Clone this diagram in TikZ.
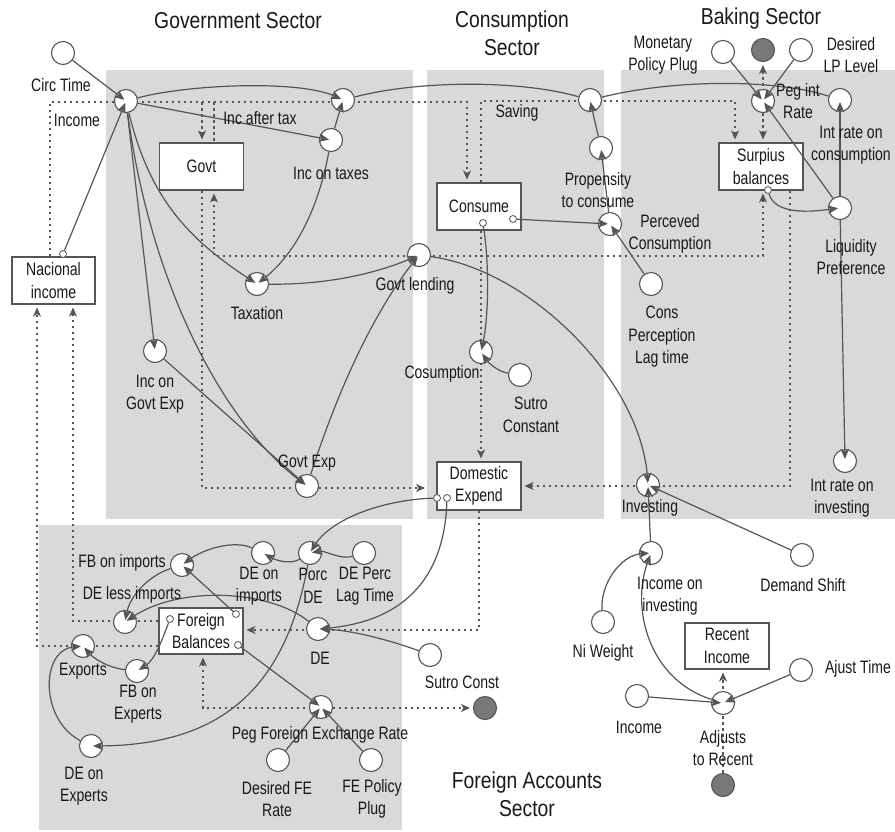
\documentclass[tikz,border=0pt]{standalone}
\usepackage{fontspec}
\setmainfont{Liberation Sans}[FakeStretch=0.78]
\newfontfamily\titlefamily{Liberation Sans}[FakeStretch=0.84]
\usetikzlibrary{arrows.meta}

\definecolor{panel}{RGB}{216,217,219}
\definecolor{ink}{RGB}{85,85,85}
\definecolor{cloudfill}{RGB}{120,120,120}
\definecolor{txt}{RGB}{25,25,25}

\newcommand\lblfont{\fontsize{18}{22.5}\selectfont}
\newcommand\ttlfont{\titlefamily\fontsize{23}{28}\selectfont}

\pgfdeclarelayer{back}
\pgfdeclarelayer{flows}
\pgfsetlayers{back,flows,main}

\tikzset{
  conv/.style={circle, draw=ink, line width=1.1pt, fill=white, minimum size=23pt, inner sep=0pt},
  cloudc/.style={circle, draw=ink, line width=1.1pt, fill=cloudfill, minimum size=23pt, inner sep=0pt},
  stock/.style={rectangle, draw=ink, line width=1.1pt, fill=white, minimum width=84pt,
                minimum height=47pt, inner sep=0pt, align=center, font=\lblfont, text=txt},
  port/.style={circle, draw=ink, line width=0.8pt, fill=white, minimum size=7pt, inner sep=0pt},
  lbl/.style={align=center, inner sep=0pt, font=\lblfont, text=txt},
  ttl/.style={align=center, inner sep=0pt, font=\ttlfont, text=txt},
  conn/.style={draw=ink, line width=1.2pt, -{Stealth[length=10pt,width=8.5pt,inset=2.5pt]}, shorten >=2pt},
  wire/.style={draw=ink, line width=1.2pt},
  flowline/.style={draw=ink, line width=1.1pt, dash pattern=on 2.5pt off 3.5pt},
  ftip/.style={-{Stealth[length=9pt,width=8pt,inset=2.5pt]}, shorten >=3pt},
  ftips/.style={{Stealth[length=9pt,width=8pt,inset=2.5pt]}-{Stealth[length=9pt,width=8pt,inset=2.5pt]}, shorten >=3pt, shorten <=3pt},
}

\begin{document}
\begin{tikzpicture}[x=1pt,y=-1pt]
\useasboundingbox (0,0) rectangle (895,831);

% ---------------- sector panels ----------------
\begin{pgfonlayer}{back}
  \fill[panel] (106,70) rectangle (413,519);
  \fill[panel] (427,70) rectangle (604,519);
  \fill[panel] (621,70) rectangle (895,519);
  \fill[panel] (39,525) rectangle (402,830);
\end{pgfonlayer}

% ---------------- stocks ----------------
\node[stock, minimum width=83pt] (nacional) at (53.5,280.5) {Nacional\\income};
\node[stock] (govt) at (201.5,166.5) {Govt};
\node[stock] (consume) at (479,206.5) {Consume};
\node[stock] (surplus) at (761,166.5) {Surpius\\balances};
\node[stock, minimum height=48pt] (domestic) at (479,486) {Domestic\\Expend};
\node[stock, minimum height=46pt] (foreign) at (201,631) {Foreign\\Balances};
\node[stock, minimum height=46pt] (recent) at (727,646) {Recent\\Income};

% ---------------- government sector ----------------
\node[conv] (circtime) at (63,53) {};
\node[conv] (incomeV) at (126,101) {};
\node[conv] (iatV) at (343,100) {};
\node[conv] (incontaxes) at (331,140) {};
\node[conv] (taxV) at (257,284) {};
\node[conv] (glendV) at (419,255) {};
\node[conv] (incgexp) at (155,351) {};
\node[conv] (gexpV) at (307,486) {};

% ---------------- consumption sector ----------------
\node[conv] (savingV) at (590,100) {};
\node[conv] (propensity) at (601,148) {};
\node[conv] (percV) at (610,224) {};
\node[conv] (consperc) at (651,284) {};
\node[conv] (cosumpV) at (481,352) {};
\node[conv] (sutroC) at (520,375) {};

% ---------------- banking sector ----------------
\node[conv] (monetary) at (723,52) {};
\node[cloudc] (cloudTop) at (763,50) {};
\node[conv] (desiredLP) at (801,50) {};
\node[conv] (pegV) at (763,101) {};
\node[conv] (intcons) at (840,100) {};
\node[conv] (liquidity) at (840,208) {};
\node[conv] (intinv) at (845,461) {};
\node[conv] (investV) at (648,485) {};
\node[conv] (incinv) at (651,553) {};
\node[conv] (demand) at (802,555) {};
\node[conv] (niweight) at (603,622) {};
\node[conv] (ajust) at (801,670) {};
\node[conv] (income2) at (637,696) {};
\node[conv] (adjV) at (723,703) {};
\node[cloudc] (cloudBot) at (723,785) {};

% ---------------- foreign accounts sector ----------------
\node[conv] (fbimpV) at (182,565) {};
\node[conv] (deimp) at (263,553) {};
\node[conv] (porcV) at (310,553) {};
\node[conv] (deperc) at (364,553) {};
\node[conv] (delessV) at (125,622) {};
\node[conv] (exportsV) at (83,646) {};
\node[conv] (fbexp) at (137,671) {};
\node[conv] (deexp) at (91,746) {};
\node[conv] (deV) at (318,629) {};
\node[conv] (sutroK) at (430,655) {};
\node[conv] (pegfeV) at (321,707) {};
\node[conv] (desfe) at (278,760) {};
\node[conv] (fepol) at (371,760) {};
\node[cloudc] (cloudF) at (485,708) {};

% ---------------- connector ports on stocks ----------------
\node[port] (nacP) at (63,254) {};
\node[port] (consP1) at (483,223) {};
\node[port] (consP2) at (513,219) {};
\node[port] (surP) at (768,190) {};
\node[port] (domP1) at (437,498) {};
\node[port] (domP2) at (447,498) {};
\node[port] (forP1) at (170,619) {};
\node[port] (forP2) at (236,614) {};
\node[port] (forP3) at (238,645) {};

% ---------------- flow pipes ----------------
\coordinate (p1) at (50,102);
\coordinate (p2) at (467,102);
\coordinate (p3) at (202,102);
\coordinate (p4) at (214,102);
\coordinate (p5) at (202,488);
\coordinate (p6) at (428,488);
\coordinate (p7) at (763,256);
\coordinate (p8) at (214,256);
\coordinate (p9) at (481,101);
\coordinate (p10) at (735,101);
\coordinate (p11) at (790,486);
\coordinate (p12) at (479,630);
\coordinate (p13) at (203,708);
\coordinate (p14) at (37,646);
\coordinate (p15) at (73,621);
\begin{pgfonlayer}{flows}
  \draw[flowline,ftip] (p1 |- nacional.north) -- (p1) -- (p2) -- (p2 |- consume.north);
  \draw[flowline,ftip] (p3) -- (p3 |- govt.north);
  \draw[flowline] (p4) -- (p4 |- govt.north);
  \draw[flowline,ftip] (p3 |- govt.south) -- (p5) -- (p6);
  \draw[flowline,ftips] (p7 |- surplus.south) -- (p7) -- (p8) -- (p8 |- govt.south);
  \draw[flowline,ftip] (p9 |- consume.north) -- (p9) -- (p10) -- (p10 |- surplus.north);
  \draw[flowline,ftips] (cloudTop) -- (cloudTop |- surplus.north);
  \draw[flowline,ftip] (p11 |- surplus.south) -- (p11) -- (domestic.east |- p11);
  \draw[flowline,ftip] (consume.south -| p9) -- (domestic.north -| p9);
  \draw[flowline,ftip] (domestic.south -| p12) -- (p12) -- (foreign.east |- p12);
  \draw[flowline,ftips] (foreign.south -| p13) -- (p13) -- (cloudF);
  \draw[flowline,ftip] (foreign.west |- p14) -- (p14) -- (p14 |- nacional.south);
  \draw[flowline,ftip] (foreign.west |- p15) -- (p15) -- (p15 |- nacional.south);
  \draw[flowline,ftip] (cloudBot) -- (recent.south -| cloudBot);
\end{pgfonlayer}

% ---------------- connectors: government ----------------
\draw[conn] (circtime) -- (incomeV.center);
\draw[conn] (nacP) -- (incomeV.center);
\draw[conn] (incomeV) .. controls (190,84) and (300,80) .. (iatV.center);
\draw[conn] (incomeV) -- (incontaxes.center);
\draw[conn] (incontaxes) -- (iatV.center);
\draw[conn] (incontaxes) .. controls (320,200) and (300,250) .. (taxV.center);
\draw[conn] (incomeV) .. controls (150,200) and (190,240) .. (taxV.center);
\draw[conn] (incomeV) -- (incgexp.center);
\draw[conn] (incomeV) .. controls (150,280) and (220,420) .. (gexpV.center);
\draw[conn] (incgexp) -- (gexpV.center);
\draw[conn] (taxV) .. controls (330,285) and (380,272) .. (glendV.center);
\draw[conn] (gexpV) .. controls (325,430) and (360,330) .. (glendV.center);
\draw[conn] (glendV) .. controls (530,270) and (640,380) .. (investV.center);

% ---------------- connectors: consumption ----------------
\draw[wire] (iatV) .. controls (420,80) and (520,80) .. (savingV);
\draw[wire] (savingV) .. controls (680,78) and (780,80) .. (intcons);
\draw[conn] (propensity) -- (savingV.center);
\draw[conn] (percV) -- (propensity.center);
\draw[conn] (consP2) -- (percV.center);
\draw[conn] (consperc) -- (percV.center);
\draw[conn] (consP1) .. controls (490,270) and (488,320) .. (cosumpV.center);
\draw[conn] (sutroC) .. controls (500,372) and (490,365) .. (cosumpV.center);

% ---------------- connectors: banking ----------------
\draw[conn] (monetary) -- (pegV.center);
\draw[conn] (desiredLP) -- (pegV.center);
\draw[conn] (liquidity) -- (pegV.center);
\draw[conn] (surP) .. controls (775,215) and (810,212) .. (liquidity.center);
\draw[conn] (liquidity) -- (intcons.center);
\draw[conn] (liquidity) -- (intinv.center);
\draw[conn] (incinv) -- (investV.center);
\draw[conn] (demand) -- (investV.center);
\draw[conn] (niweight) .. controls (600,585) and (620,555) .. (incinv.center);
\draw[conn] (adjV) .. controls (650,680) and (630,610) .. (incinv.center);
\draw[conn] (income2) -- (adjV.center);
\draw[conn] (ajust) -- (adjV.center);

% ---------------- connectors: foreign accounts ----------------
\draw[conn] (domP1) .. controls (380,500) and (330,520) .. (porcV.center);
\draw[conn] (domP2) .. controls (445,560) and (420,620) .. (deV.center);
\draw[conn] (sutroK) .. controls (390,640) and (350,630) .. (deV.center);
\draw[conn] (deperc) .. controls (340,560) and (325,550) .. (porcV.center);
\draw[conn] (porcV) .. controls (290,565) and (275,560) .. (deimp.center);
\draw[conn] (deimp) .. controls (235,540) and (205,548) .. (fbimpV.center);
\draw[conn] (forP2) -- (fbimpV.center);
\draw[conn] (fbimpV) .. controls (150,575) and (130,595) .. (delessV.center);
\draw[conn] (deV) .. controls (270,590) and (180,585) .. (delessV.center);
\draw[conn] (forP1) .. controls (162,640) and (155,660) .. (fbexp.center);
\draw[conn] (fbexp) .. controls (110,668) and (95,660) .. (exportsV.center);
\draw[conn] (deexp) .. controls (40,720) and (40,650) .. (exportsV.center);
\draw[conn] (porcV) .. controls (285,690) and (220,745) .. (deexp.center);
\draw[conn] (forP3) -- (pegfeV.center);
\draw[conn] (desfe) -- (pegfeV.center);
\draw[conn] (fepol) -- (pegfeV.center);

% ---------------- sector titles ----------------
\node[ttl] (tGov) at (238,21) {Government Sector};
\node[ttl] (tCons) at (512,33) {Consumption\\Sector};
\node[ttl] (tBank) at (761,19) {Baking Sector};
\node[ttl] (tFor) at (527,794) {Foreign Accounts\\Sector};

% ---------------- labels ----------------
\node[lbl] (lCirc) at (61,85) {Circ Time};
\node[lbl] (lIncome) at (77,120) {Income};
\node[lbl] (lIat) at (260,118) {Inc after tax};
\node[lbl] (lIot) at (331,173) {Inc on taxes};
\node[lbl] (lTax) at (257,313) {Taxation};
\node[lbl] (lGlend) at (415,286) {Govt lending};
\node[lbl] (lIge) at (155,394) {Inc on\\Govt Exp};
\node[lbl] (lGexp) at (307,463) {Govt Exp};

\node[lbl] (lSaving) at (517,113) {Saving};
\node[lbl] (lProp) at (598,190) {Propensity\\to consume};
\node[lbl] (lPerc) at (670,234) {Perceved\\Consumption};
\node[lbl] (lCperc) at (662,337) {Cons\\Perception\\Lag time};
\node[lbl] (lCosump) at (442,374) {Cosumption};
\node[lbl] (lSutroC) at (531,415) {Sutro\\Constant};

\node[lbl] (lMon) at (663,55) {Monetary\\Policy Plug};
\node[lbl] (lDesLP) at (851,55) {Desired\\LP Level};
\node[lbl] (lPeg) at (798,101) {Peg int\\Rate};
\node[lbl] (lIntc) at (851,145) {Int rate on\\consumption};
\node[lbl] (lLiq) at (851,257) {Liquidity\\Preference};
\node[lbl] (lInti) at (842,498) {Int rate on\\investing};
\node[lbl] (lInvest) at (650,508) {Investing};
\node[lbl] (lIncinv) at (670,596) {Income on\\investing};
\node[lbl] (lDemand) at (803,585) {Demand Shift};
\node[lbl] (lNi) at (603,653) {Ni Weight};
\node[lbl] (lAjust) at (858,669) {Ajust Time};
\node[lbl] (lIncome2) at (639,727) {Income};
\node[lbl] (lAdj) at (723,748) {Adjusts\\to Recent};

\node[lbl] (lFbimp) at (122,563) {FB on imports};
\node[lbl] (lDeimp) at (259,586) {DE on\\imports};
\node[lbl] (lPorc) at (313,586) {Porc\\DE};
\node[lbl] (lDeperc) at (365,586) {DE Perc\\Lag Time};
\node[lbl] (lDeless) at (132,595) {DE less imports};
\node[lbl] (lExports) at (83,671) {Exports};
\node[lbl] (lFbexp) at (138,704) {FB on\\Experts};
\node[lbl] (lDeexp) at (84,786) {DE on\\Experts};
\node[lbl] (lDe) at (320,658) {DE};
\node[lbl] (lSutroK) at (462,682) {Sutro Const};
\node[lbl] (lPegfe) at (320,735) {Peg Foreign Exchange Rate};
\node[lbl] (lDesfe) at (277,799) {Desired FE\\Rate};
\node[lbl] (lFepol) at (372,799) {FE Policy\\Plug};
\end{tikzpicture}
\end{document}
